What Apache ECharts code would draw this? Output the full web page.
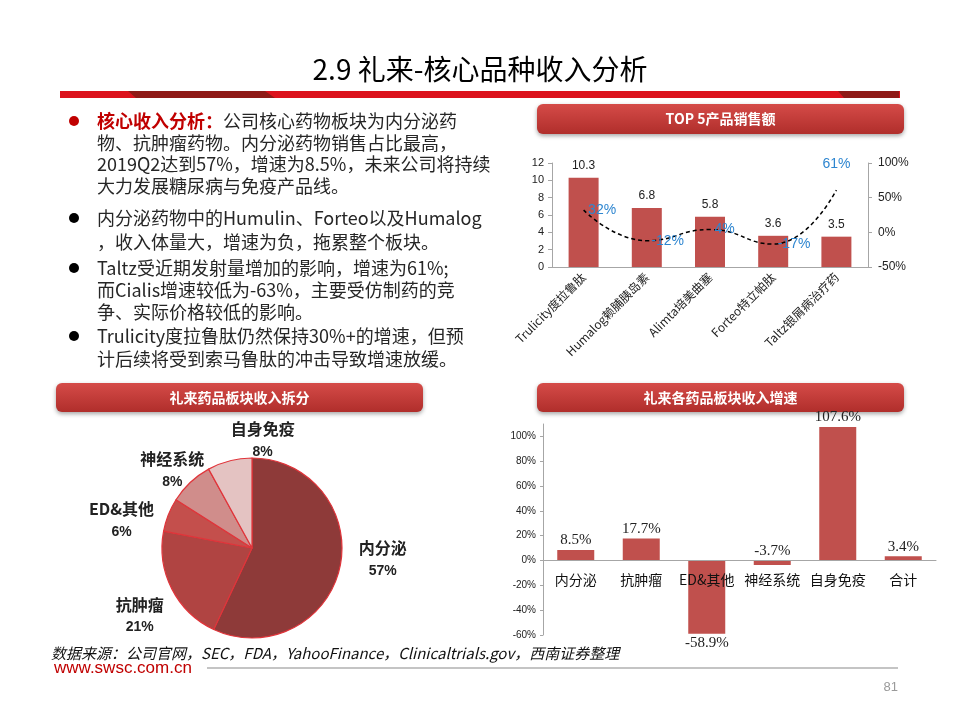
<!DOCTYPE html>
<html><head><meta charset="utf-8">
<script src="https://cdn.jsdelivr.net/npm/echarts@6/dist/echarts.min.js"></script>
<style>html,body{margin:0;padding:0;background:#fff}#c{width:960px;height:720px}</style>
</head><body><div id="c"></div>
<script>
// ---- data ----
const top5Names = ['Trulicity度拉鲁肽', 'Humalog赖脯胰岛素', 'Alimta培美曲塞', 'Forteo特立帕肽', 'Taltz银屑病治疗药'];
const top5Sales = [10.3, 6.8, 5.8, 3.6, 3.5];
const top5Growth = [32, -12, 4, -17, 61];
const salesTicks = { min: 0, max: 12, interval: 2 };
const growthTicks = { min: -50, max: 100, interval: 50 };

const pieNames = ['内分泌', '抗肿瘤', 'ED&其他', '神经系统', '自身免疫'];
const pieShares = [57, 21, 6, 8, 8];

const segCats = ['内分泌', '抗肿瘤', 'ED&其他', '神经系统', '自身免疫', '合计'];
const segGrowth = [8.5, 17.7, -58.9, -3.7, 107.6, 3.4];
const segTicks = { min: -60, max: 110, interval: 20 };

const titleText = '2.9 礼来-核心品种收入分析';
const bulletLines = [
  ['r', '核心收入分析：', '公司核心药物板块为内分泌药'],
  ['', '', '物、抗肿瘤药物。内分泌药物销售占比最高，'],
  ['', '', '2019Q2达到57%，增速为8.5%，未来公司将持续'],
  ['', '', '大力发展糖尿病与免疫产品线。'],
  ['b', '', '内分泌药物中的Humulin、Forteo以及Humalog'],
  ['', '', '，收入体量大，增速为负，拖累整个板块。'],
  ['b', '', 'Taltz受近期发射量增加的影响，增速为61%;'],
  ['', '', '而Cialis增速较低为-63%，主要受仿制药的竞'],
  ['', '', '争、实际价格较低的影响。'],
  ['b', '', 'Trulicity度拉鲁肽仍然保持30%+的增速，但预'],
  ['', '', '计后续将受到索马鲁肽的冲击导致增速放缓。']
];
const sourceText = '数据来源：公司官网，SEC，FDA，YahooFinance，Clinicaltrials.gov，西南证券整理';

// ---- styles ----
const CJK = '"Noto Sans CJK SC", sans-serif';
const barRed = '#c0504d';
const pieColors = ['#8e3a39', '#b04442', '#c44f4c', '#d08d8b', '#e4c3c2'];
const pieLabelShift = [[0, -9], [10, 24], [5, -12], [40, -22], [78, -12]];

const lineYs = [121, 143, 164, 186, 218, 242, 268, 290, 312, 336, 359];
const graphics = [];

// title
graphics.push({ type: 'text', left: 'center', top: 55, style: { text: titleText, font: '28px ' + CJK, fill: '#000' } });
// red band
const bright = '#dc121c', dark = '#8f1a16';
graphics.push({ type: 'rect', shape: { x: 60, y: 91, width: 840, height: 7 }, style: { fill: bright } });
graphics.push({ type: 'polygon', shape: { points: [[128, 91], [265, 91], [275, 98], [136, 98]] }, style: { fill: dark } });
graphics.push({ type: 'polygon', shape: { points: [[838, 91], [899, 91], [899, 98], [844, 98]] }, style: { fill: dark } });

// header boxes
function header(x, y, w, h, text) {
  graphics.push({
    type: 'rect', shape: { x: x, y: y, width: w, height: h, r: 6 },
    style: {
      fill: { type: 'linear', x: 0, y: 0, x2: 0, y2: 1, colorStops: [{ offset: 0, color: '#d54b48' }, { offset: 1, color: '#b02e2b' }] },
      shadowBlur: 4, shadowOffsetY: 2, shadowColor: 'rgba(0,0,0,0.35)'
    }
  });
  graphics.push({ type: 'text', x: x + w / 2, y: y + h / 2, style: { text: text, font: 'bold 14px ' + CJK, fill: '#fff', align: 'center', verticalAlign: 'middle' } });
}
header(537, 104, 367, 30, 'TOP 5产品销售额');
header(56, 383, 367, 29, '礼来药品板块收入拆分');
header(537, 383, 367, 29, '礼来各药品板块收入增速');

// bullet text
bulletLines.forEach(function (ln, i) {
  const y = lineYs[i];
  if (ln[0]) {
    graphics.push({ type: 'circle', shape: { cx: 74, cy: y, r: 5 }, style: { fill: ln[0] === 'r' ? '#c00000' : '#000' } });
  }
  graphics.push({
    type: 'text', x: 97, y: y,
    style: {
      text: (ln[1] ? '{r|' + ln[1] + '}' : '') + '{n|' + ln[2] + '}',
      verticalAlign: 'middle',
      rich: {
        r: { font: 'bold 18px ' + CJK, fill: '#c00000' },
        n: { font: '18px ' + CJK, fill: '#262626' }
      }
    }
  });
});

// footer
graphics.push({ type: 'text', x: 51, y: 653, style: { text: sourceText, font: 'italic 15px ' + CJK, fill: '#111', verticalAlign: 'middle' } });
graphics.push({ type: 'text', x: 54, y: 668, style: { text: 'www.swsc.com.cn', font: '17px "Liberation Sans", Arial', fill: '#c00000', verticalAlign: 'middle' } });
graphics.push({ type: 'line', shape: { x1: 207, y1: 668, x2: 898, y2: 668 }, style: { stroke: '#c4c4c4', lineWidth: 2 } });
graphics.push({ type: 'text', x: 898, y: 687, style: { text: '81', font: '13px "Liberation Sans", Arial', fill: '#9a9a9a', align: 'right', verticalAlign: 'middle' } });

const axisGray = '#a6a6a6';
const segGridH = 211;
// category labels sit just under the zero line
const segLabelMargin = 12 - (0 - segTicks.min) / (segTicks.max - segTicks.min) * segGridH;

const chart = echarts.init(document.getElementById('c'), null, { renderer: 'canvas' });
chart.setOption({
  animation: false,
  backgroundColor: '#fff',
  graphic: graphics,
  grid: [
    { left: 552, top: 163, width: 316, height: 104 },
    { left: 543, top: 424, width: 393, height: segGridH }
  ],
  xAxis: [
    {
      type: 'category', gridIndex: 0, data: top5Names,
      axisLine: { lineStyle: { color: axisGray } }, axisTick: { show: false },
      axisLabel: { rotate: 45, fontSize: 12, color: '#222', fontFamily: CJK, margin: 8, interval: 0 }
    },
    {
      type: 'category', gridIndex: 1, data: segCats, z: 5,
      axisLine: { onZero: true, lineStyle: { color: axisGray } }, axisTick: { show: false },
      axisLabel: { fontSize: 14, color: '#111', fontFamily: CJK, margin: segLabelMargin, interval: 0 }
    }
  ],
  yAxis: [
    {
      type: 'value', gridIndex: 0, position: 'left', min: salesTicks.min, max: salesTicks.max, interval: salesTicks.interval,
      axisLine: { show: true, lineStyle: { color: axisGray } }, axisTick: { show: true, length: 4, lineStyle: { color: axisGray } },
      splitLine: { show: false }, axisLabel: { fontSize: 11, color: '#222', margin: 8 }
    },
    {
      type: 'value', gridIndex: 0, position: 'right', min: growthTicks.min, max: growthTicks.max, interval: growthTicks.interval,
      axisLine: { show: true, lineStyle: { color: axisGray } }, axisTick: { show: true, length: 4, lineStyle: { color: axisGray } },
      splitLine: { show: false }, axisLabel: { fontSize: 12, color: '#222', margin: 10, formatter: '{value}%' }
    },
    {
      type: 'value', gridIndex: 1, min: segTicks.min, max: segTicks.max, interval: segTicks.interval,
      axisLine: { show: true, lineStyle: { color: axisGray } }, axisTick: { show: true, length: 3, lineStyle: { color: axisGray } },
      splitLine: { show: false }, axisLabel: { fontSize: 10, color: '#222', margin: 7, formatter: '{value}%', showMaxLabel: false }
    }
  ],
  series: [
    {
      type: 'bar', xAxisIndex: 0, yAxisIndex: 0, data: top5Sales, barWidth: 30,
      itemStyle: { color: barRed },
      label: { show: true, position: 'top', fontSize: 12, color: '#222', distance: 6 }
    },
    {
      type: 'line', xAxisIndex: 0, yAxisIndex: 1, smooth: 0.5, z: 4,
      data: top5Growth.map(function (v, i) {
        return i === top5Growth.length - 1 ? { value: v, label: { position: 'top', distance: 18 } } : v;
      }),
      symbol: 'circle', symbolSize: 1, itemStyle: { color: 'rgba(0,0,0,0)' },
      lineStyle: { color: '#000', type: [4, 3], width: 1.5 },
      label: { show: true, position: 'right', distance: 4, formatter: '{c}%', fontSize: 14, color: '#2e86d0' }
    },
    {
      type: 'bar', xAxisIndex: 1, yAxisIndex: 2, barWidth: 37,
      data: segGrowth.map(function (v) {
        return v < -10 ? { value: v, label: { position: 'bottom' } } : v;
      }),
      itemStyle: { color: barRed },
      label: { show: true, position: 'top', distance: 2, formatter: function (p) { return p.value.toFixed(1) + '%'; }, fontSize: 15, fontFamily: '"Liberation Serif", serif', color: '#222' }
    },
    {
      type: 'pie', center: [252, 548], radius: 90, startAngle: 90, clockwise: true,
      data: pieNames.map(function (n, i) { return { name: n, value: pieShares[i], itemStyle: { color: pieColors[i] } }; }),
      itemStyle: { borderColor: '#e0343a', borderWidth: 1.2 },
      labelLine: { show: false, length: 8, length2: 6 },
      label: {
        show: true, position: 'outside',
        formatter: function (p) { return '{n|' + p.name + '}\n{p|' + p.value + '%}'; },
        rich: {
          n: { fontSize: 16, fontWeight: 'bold', fontFamily: CJK, color: '#222', lineHeight: 23 },
          p: { fontSize: 14, fontWeight: 'bold', fontFamily: '"Liberation Sans", Arial', color: '#222', lineHeight: 23 }
        }
      },
      labelLayout: function (p) {
        const r = p.labelRect;
        const s = pieLabelShift[p.dataIndex];
        return { x: r.x + r.width / 2 + s[0], y: r.y + r.height / 2 + s[1], align: 'center', verticalAlign: 'middle' };
      }
    }
  ]
});
</script></body></html>
